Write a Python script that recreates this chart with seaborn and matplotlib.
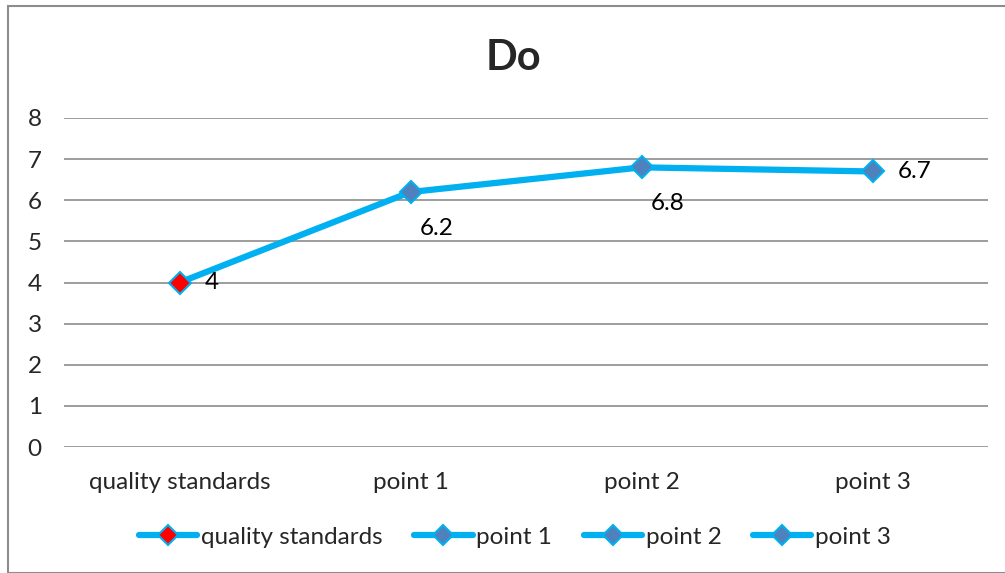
import matplotlib
matplotlib.use("Agg")
import matplotlib.pyplot as plt
from matplotlib.lines import Line2D
from matplotlib.patches import Rectangle
import seaborn as sns
import pandas as pd

categories = ["quality standards", "point 1", "point 2", "point 3"]
values = [4, 6.2, 6.8, 6.7]
marker_faces = ["#FF0000", "#4F81BD", "#4F81BD", "#4F81BD"]
label_pos = ["right", "below", "below", "right"]
title = "Do"
yticks = [0, 1, 2, 3, 4, 5, 6, 7, 8]

LINE = "#00B0F0"
FS = 17.5

sns.set_theme(style="white")
plt.rcParams["font.family"] = ["Lato", "DejaVu Sans"]

df = pd.DataFrame({"cat": categories, "x": range(len(categories)), "val": values})

fig = plt.figure(figsize=(10.05, 5.73), dpi=100)
ax = fig.add_axes([64 / 1005, 1 - 447 / 573, 924 / 1005, 329 / 573])

sns.lineplot(data=df, x="x", y="val", ax=ax, color=LINE, linewidth=4.5,
             zorder=3, legend=False)
for xi, v, fc in zip(df["x"], values, marker_faces):
    ax.plot([xi], [v], marker="D", markersize=11, markerfacecolor=fc,
            markeredgecolor=LINE, markeredgewidth=1.5, linestyle="none", zorder=4)

for xi, v, pos in zip(df["x"], values, label_pos):
    txt = f"{v:g}"
    if pos == "right":
        ax.annotate(txt, (xi, v), xytext=(18, 0), textcoords="offset points",
                    ha="left", va="center", fontsize=FS, color="black")
    else:
        ax.annotate(txt, (xi, v), xytext=(19, -26), textcoords="offset points",
                    ha="center", va="center", fontsize=FS, color="black")

ax.set_xlim(-0.5, len(categories) - 0.5)
ax.set_ylim(0, 8)
ax.set_yticks(yticks)
ax.set_xticks(list(df["x"]))
ax.set_xticklabels(categories, fontsize=FS)
ax.tick_params(axis="y", labelsize=FS, length=0, pad=16)
ax.tick_params(axis="x", length=0, pad=18)
ax.grid(axis="y", color="#8C8C8C", linewidth=1.2)
ax.set_axisbelow(True)
for s in ax.spines.values():
    s.set_visible(False)
ax.set_xlabel("")
ax.set_ylabel("")

fig.text(513 / 1005, 1 - 58 / 573, title, ha="center", va="center",
         fontsize=30, fontweight="bold")

handles = [Line2D([0], [0], color=LINE, linewidth=4.5, marker="D", markersize=10,
                  markerfacecolor=fc, markeredgecolor=LINE, markeredgewidth=1.5)
           for fc in marker_faces]
fig.legend(handles, categories, loc="center", bbox_to_anchor=(515 / 1005, 1 - 537 / 573),
           ncol=4, frameon=False, fontsize=FS, handlelength=2.4, handletextpad=0.15,
           columnspacing=1.3)

fig.patches.append(Rectangle((8 / 1005, 0), 1.0, 1 - 6 / 573, transform=fig.transFigure,
                             fill=False, edgecolor="#8C8C8C", linewidth=1.5))

fig.savefig("out.png", dpi=100)
